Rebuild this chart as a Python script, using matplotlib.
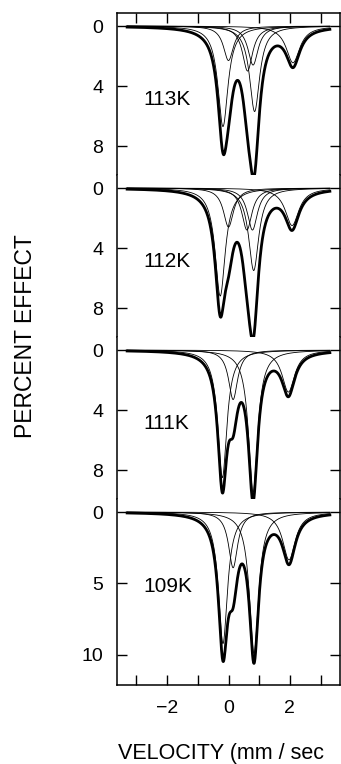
import numpy as np
import matplotlib.pyplot as plt
from matplotlib.ticker import MultipleLocator

# --- Data: Lorentzian components (center mm/s, depth %, half width) ---
temps = ["113K", "112K", "111K", "109K"]

centers_113 = [-0.18, 0.00, 0.62, 0.80, 0.85, 2.10]
depths_113 = [6.7, 2.3, 3.0, 2.6, 5.7, 2.45]
widths_113 = [0.20, 0.20, 0.20, 0.20, 0.20, 0.27]

centers_112 = [-0.27, 0.00, 0.60, 0.78, 0.82, 2.07]
depths_112 = [7.2, 2.6, 2.8, 2.8, 5.5, 2.5]
widths_112 = [0.20, 0.20, 0.20, 0.20, 0.20, 0.27]

centers_111 = [-0.20, 0.15, 0.80, 1.95]
depths_111 = [8.5, 3.3, 9.5, 2.8]
widths_111 = [0.18, 0.18, 0.18, 0.25]

centers_109 = [-0.18, 0.15, 0.83, 1.97]
depths_109 = [9.2, 3.9, 9.9, 3.35]
widths_109 = [0.18, 0.18, 0.18, 0.25]

ytick_sets = [[0, 4, 8], [0, 4, 8], [0, 4, 8], [0, 5, 10]]

panels = [
    (centers_113, depths_113, widths_113),
    (centers_112, depths_112, widths_112),
    (centers_111, depths_111, widths_111),
    (centers_109, depths_109, widths_109),
]

v = np.linspace(-3.3, 3.3, 800)


def lorentz(x, c, d, w):
    return d * w**2 / ((x - c)**2 + w**2)


# --- Figure ---
W, H = 341, 764
fig = plt.figure(figsize=(W / 100, H / 100), dpi=100)

# panel extents in pixels (top, bottom) and y limits
extents = [(13, 175), (175, 337), (337, 499), (499, 685)]
ylims = [(9.93, -0.87), (9.93, -0.87), (9.93, -0.87), (12.1, -0.91)]

font = "Liberation Sans"

for i, ((top, bot), (cs, ds, ws)) in enumerate(zip(extents, panels)):
    ax = fig.add_axes([117 / W, 1 - bot / H, 223 / W, (bot - top) / H])
    ax.set_xlim(-3.63, 3.63)
    ax.set_ylim(*ylims[i])

    total = np.zeros_like(v)
    for c, d, w in zip(cs, ds, ws):
        comp = lorentz(v, c, d, w)
        total += comp
        ax.plot(v, comp, color="black", lw=0.6, clip_on=False)
    ax.plot(v, total, color="black", lw=2.0, clip_on=False,
            solid_joinstyle="round")

    ax.text(-2.78, 4.9 if i < 3 else 5.2, temps[i], fontsize=15,
            family=font, va="center", ha="left")

    for s in ax.spines.values():
        s.set_linewidth(1.1)
    if i > 0:
        ax.spines["top"].set_visible(False)
    if i < 3:
        ax.spines["bottom"].set_visible(False)

    ax.set_yticks(ytick_sets[i])
    ax.tick_params(axis="y", direction="in", left=True, right=True,
                   length=7, width=1.0, pad=10, labelsize=14)
    for lab in ax.get_yticklabels():
        lab.set_family(font)

    if i == 0:
        ax.xaxis.set_major_locator(MultipleLocator(1))
        ax.tick_params(axis="x", direction="in", top=True, bottom=False,
                       labelbottom=False, length=7, width=1.0)
    elif i == 3:
        ax.set_xticks([-2, 0, 2])
        ax.xaxis.set_minor_locator(MultipleLocator(1))
        ax.tick_params(axis="x", which="both", direction="in", top=False,
                       bottom=True, length=7, width=1.0, pad=11, labelsize=14)
        for lab in ax.get_xticklabels():
            lab.set_family(font)
    else:
        ax.tick_params(axis="x", bottom=False, top=False, labelbottom=False)

fig.text(26 / W, 1 - 336 / H, "PERCENT EFFECT", rotation=90, fontsize=16.5,
         family=font, ha="center", va="center")
fig.text(118 / W, 1 - 754 / H, "VELOCITY (mm / sec", fontsize=15.5,
         family=font, ha="left", va="center")

fig.savefig("out.png", dpi=100)
plt.close(fig)
